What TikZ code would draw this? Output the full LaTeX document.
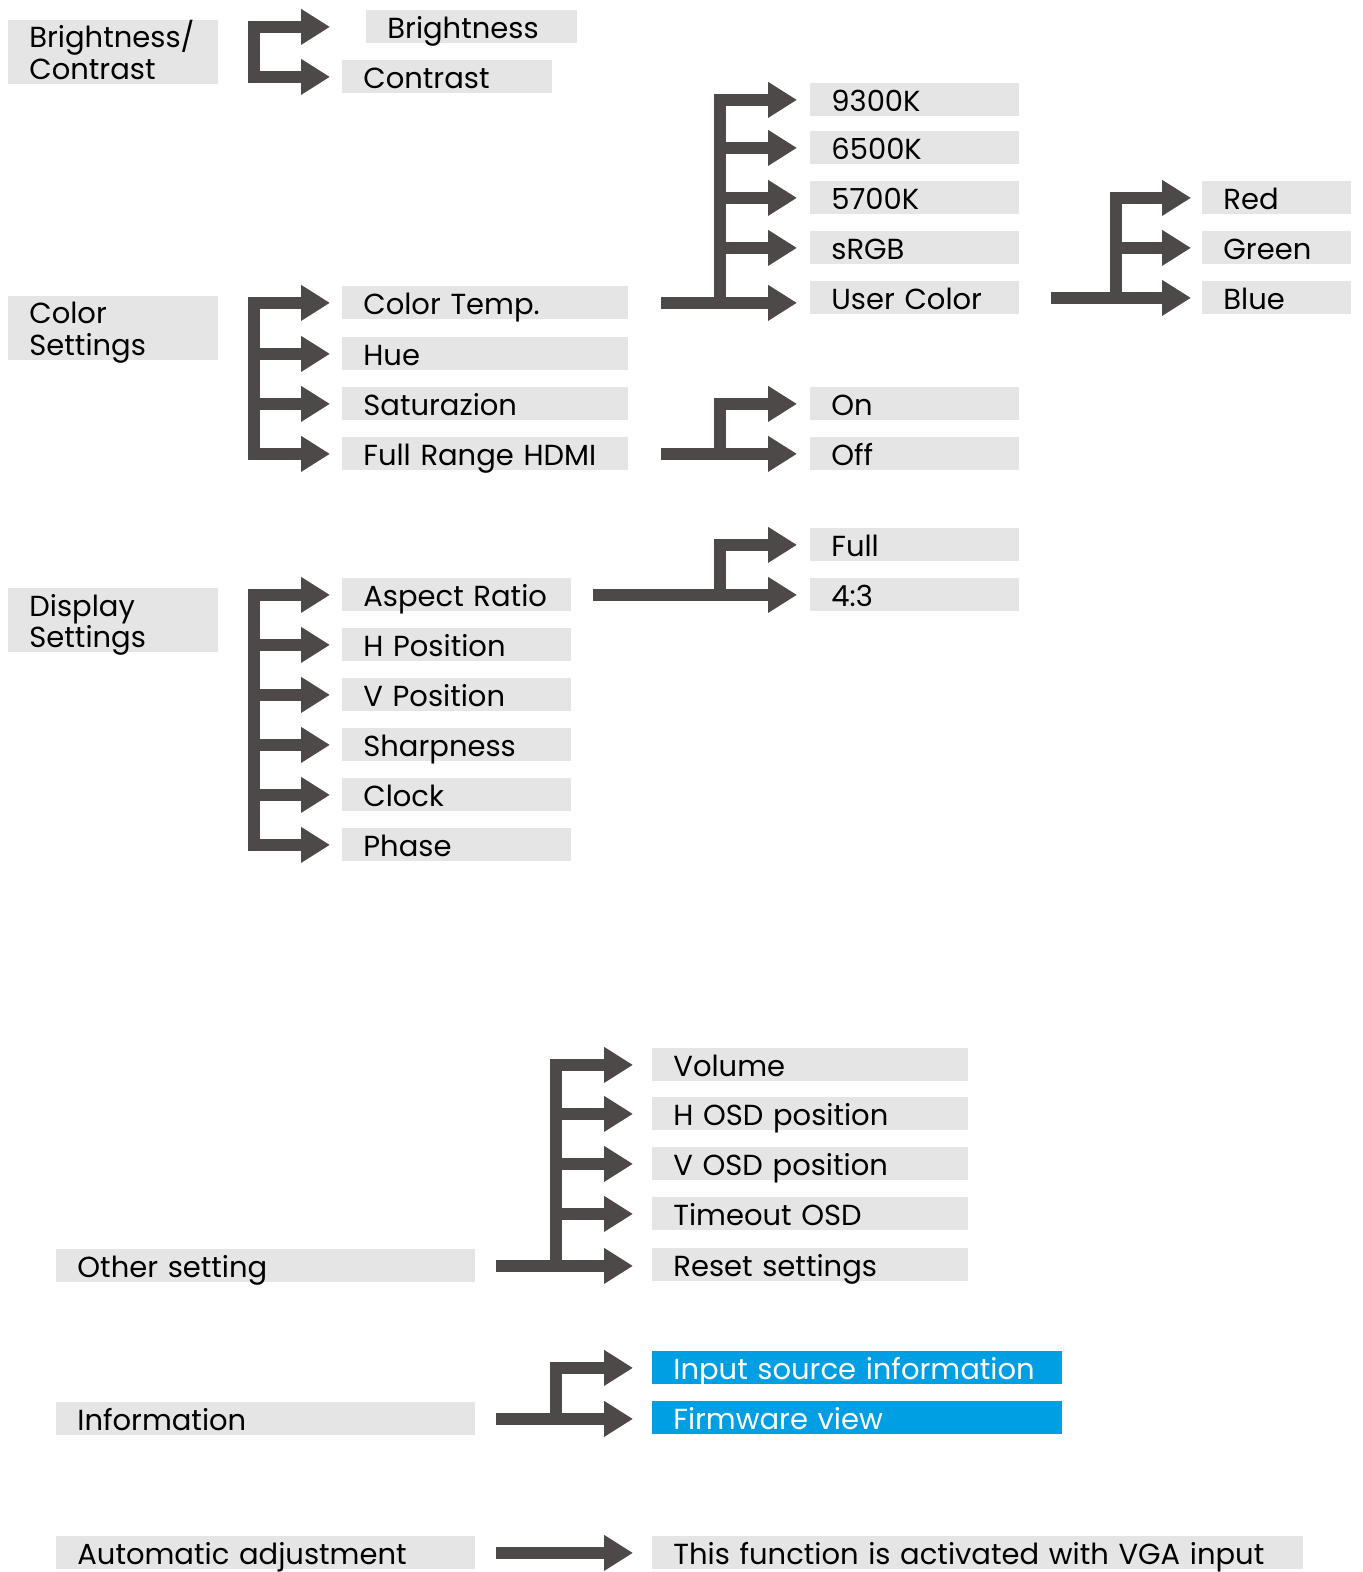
\documentclass[tikz,border=0pt]{standalone}
\usepackage{fontspec}
\setmainfont{Poppins}
\usetikzlibrary{arrows.meta,positioning}
\definecolor{boxGray}{HTML}{E5E5E5}
\definecolor{arrowGray}{HTML}{4D4948}
\definecolor{infoBlue}{HTML}{009FE3}

\tikzset{
  entry/.style={fill=boxGray,anchor=north west,inner xsep=10.5pt,inner ysep=0pt,
    minimum height=16.5pt,align=left,text height=11.3pt,text depth=0pt,
    font=\fontsize{14.5}{15.7}\selectfont},
  mainbox/.style={entry,minimum height=32pt,text depth=15.7pt},
  infobox/.style={entry,fill=infoBlue,text=white},
  menuarrow/.style={draw=arrowGray,line width=6pt,
    -{Triangle[length=14.5pt,width=17pt]}},
}

\begin{document}
\begin{tikzpicture}[x=0.5pt,y=-0.5pt]
  \useasboundingbox (0,0) rectangle (1362,1572);

  % bars and tips of the brackets
  \coordinate (leftbar) at (254,0);
  \coordinate (lefttip) at (330,0);
  \coordinate (midbar) at (720,0);
  \coordinate (midtip) at (797,0);
  \coordinate (rgbbar) at (1116,0);
  \coordinate (rgbtip) at (1191,0);
  \coordinate (lowbar) at (556,0);
  \coordinate (lowtip) at (633,0);

  % Brightness / Contrast
  \node[mainbox,text width=84pt] (bc) at (8,20) {Brightness/\\Contrast};
  \node[entry,text width=84.5pt] (bri) at (366,10) {Brightness};
  \node[entry,text width=84pt] (con) at (342,60) {Contrast};
  \draw[menuarrow] (leftbar |- con) |- (lefttip |- bri);
  \draw[menuarrow] (leftbar |- bri) |- (lefttip |- con);

  % Color settings
  \node[mainbox,text width=84pt] (cs) at (8,296) {Color\\Settings};
  \node[entry,text width=122pt] (ct) at (342,286) {Color Temp.};
  \node[entry,text width=122pt] (hue) at (342,337) {Hue};
  \node[entry,text width=122pt] (sat) at (342,387) {Saturazion};
  \node[entry,text width=122pt] (hdmi) at (342,437) {Full Range HDMI};
  \draw[menuarrow] (leftbar |- hdmi) |- (lefttip |- ct);
  \draw[menuarrow] (leftbar |- ct) |- (lefttip |- hdmi);
  \foreach \n in {hue,sat}
    \draw[menuarrow] (leftbar |- \n) -- (lefttip |- \n);

  \node[entry,text width=83.5pt] (k93) at (810,83) {9300K};
  \node[entry,text width=83.5pt] (k65) at (810,131) {6500K};
  \node[entry,text width=83.5pt] (k57) at (810,181) {5700K};
  \node[entry,text width=83.5pt] (srgb) at (810,231) {sRGB};
  \node[entry,text width=83.5pt] (uc) at (810,281) {User Color};
  \draw[menuarrow] ([xshift=16pt]ct.east) -- (midtip |- ct);
  \draw[menuarrow] (midbar |- ct) |- (midtip |- k93);
  \foreach \n in {k65,k57,srgb}
    \draw[menuarrow] (midbar |- \n) -- (midtip |- \n);

  \node[entry,text width=53.5pt] (red) at (1202,181) {Red};
  \node[entry,text width=53.5pt] (green) at (1202,231) {Green};
  \node[entry,text width=53.5pt] (blue) at (1202,281) {Blue};
  \draw[menuarrow] ([xshift=15.5pt]uc.east) -- (rgbtip |- uc);
  \draw[menuarrow] (rgbbar |- uc) |- (rgbtip |- red);
  \draw[menuarrow] (rgbbar |- green) -- (rgbtip |- green);

  \node[entry,text width=83.5pt] (on) at (810,387) {On};
  \node[entry,text width=83.5pt] (off) at (810,437) {Off};
  \draw[menuarrow] ([xshift=16pt]hdmi.east) -- (midtip |- hdmi);
  \draw[menuarrow] (midbar |- hdmi) |- (midtip |- on);

  % Display settings
  \node[mainbox,text width=84pt] (ds) at (8,588) {Display\\Settings};
  \node[entry,text width=93.5pt] (ar) at (342,578) {Aspect Ratio};
  \node[entry,text width=93.5pt] (hp) at (342,628) {H Position};
  \node[entry,text width=93.5pt] (vp) at (342,678) {V Position};
  \node[entry,text width=93.5pt] (sh) at (342,728) {Sharpness};
  \node[entry,text width=93.5pt] (clk) at (342,778) {Clock};
  \node[entry,text width=93.5pt] (ph) at (342,828) {Phase};
  \draw[menuarrow] (leftbar |- ph) |- (lefttip |- ar);
  \draw[menuarrow] (leftbar |- ar) |- (lefttip |- ph);
  \foreach \n in {hp,vp,sh,clk}
    \draw[menuarrow] (leftbar |- \n) -- (lefttip |- \n);

  \node[entry,text width=83.5pt] (full) at (810,528) {Full};
  \node[entry,text width=83.5pt] (r43) at (810,578) {4:3};
  \draw[menuarrow] ([xshift=10.5pt]ar.east) -- (midtip |- ar);
  \draw[menuarrow] (midbar |- ar) |- (midtip |- full);

  % Other setting
  \node[entry,text width=188.5pt] (os) at (56,1249) {Other setting};
  \node[entry,text width=137pt] (vol) at (652,1048) {Volume};
  \node[entry,text width=137pt] (hosd) at (652,1097) {H OSD position};
  \node[entry,text width=137pt] (vosd) at (652,1147) {V OSD position};
  \node[entry,text width=137pt] (tosd) at (652,1197) {Timeout OSD};
  \node[entry,text width=137pt] (rst) at (652,1248) {Reset settings};
  \draw[menuarrow] ([xshift=10pt]os.east) -- (lowtip |- os);
  \draw[menuarrow] (lowbar |- os) |- (lowtip |- vol);
  \foreach \n in {hosd,vosd,tosd}
    \draw[menuarrow] (lowbar |- \n) -- (lowtip |- \n);

  % Information
  \node[entry,text width=188.5pt] (inf) at (56,1402) {Information};
  \node[infobox,text width=184pt] (isi) at (652,1351) {Input source information};
  \node[infobox,text width=184pt] (fw) at (652,1401) {Firmware view};
  \draw[menuarrow] ([xshift=10pt]inf.east) -- (lowtip |- inf);
  \draw[menuarrow] (lowbar |- inf) |- (lowtip |- isi);

  % Automatic adjustment
  \node[entry,text width=188.5pt] (aa) at (56,1536) {Automatic adjustment};
  \node[entry,text width=304.5pt] (vga) at (652,1536) {This function is activated with VGA input};
  \draw[menuarrow] ([xshift=10pt]aa.east) -- (lowtip |- aa);
\end{tikzpicture}
\end{document}
